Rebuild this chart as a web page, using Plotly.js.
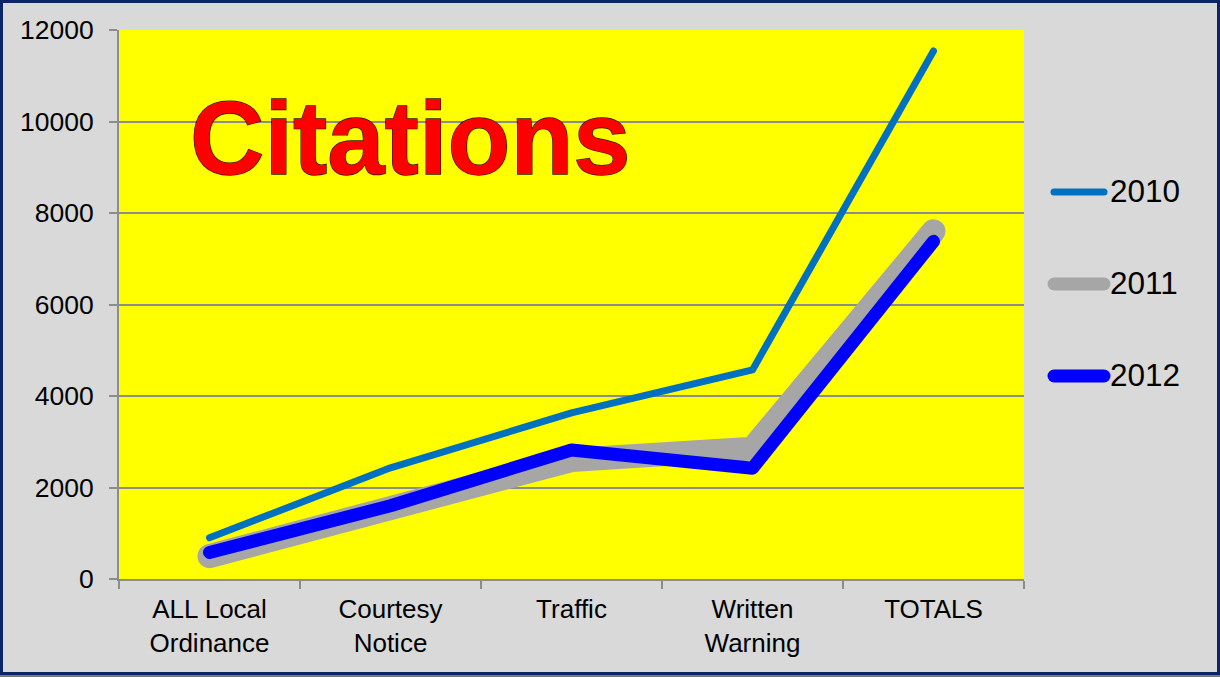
<!DOCTYPE html>
<html>
<head>
<meta charset="utf-8">
<script src="https://cdn.plot.ly/plotly-3.0.1.min.js"></script>
<style>
  html, body { margin: 0; padding: 0; background: #d9d9d9; }
  #wrap { position: relative; width: 1220px; height: 677px; overflow: hidden; }
  #chart { position: absolute; left: 0; top: 0; width: 1220px; height: 677px; }
  #frame { position: absolute; left: 0; top: 0; width: 1220px; height: 675px; box-sizing: border-box;
           border: 3px solid #0b2566; box-shadow: 0 2px 0 #7a7a7a; pointer-events: none; }
  .js-line { stroke-linecap: round !important; stroke-linejoin: round !important; }
  .shapelayer path { stroke-linecap: round !important; }
  .ann-title text { stroke: #2a1200; stroke-width: 1.3px; paint-order: stroke; }
</style>
</head>
<body>
<div id="wrap">
  <div id="chart"></div>
  <div id="frame"></div>
</div>
<script>
// ---- data ----
const categories = ["ALL Local<br>Ordinance", "Courtesy<br>Notice", "Traffic", "Written<br>Warning", "TOTALS"];
const seriesNames = ["2010", "2011", "2012"];
const values2010 = [900, 2430, 3630, 4570, 11540];
const values2011 = [500, 1600, 2600, 2850, 7600];
const values2012 = [580, 1600, 2820, 2420, 7380];
const yTickValues = [0, 2000, 4000, 6000, 8000, 10000, 12000];
const chartTitle = "Citations";

// ---- styling ----
const colors = ["#0070c0", "#a6a6a6", "#0000ff"];
const widths = [7, 24, 13];
const legendWidths = [7, 13, 13];
const FONT = "Liberation Sans, Arial, sans-serif";

// plot area in page pixels
const PL = 119, PR = 1024, PT = 30, PB = 579;
const W = 1220, H = 677;
const px2x = p => (p - PL) / (PR - PL);
const py2y = p => (PB - p) / (PB - PT);

const allValues = [values2010, values2011, values2012];
const traces = allValues.map((v, i) => ({
  type: "scatter", mode: "lines",
  x: categories, y: v, name: seriesNames[i],
  line: { color: colors[i], width: widths[i] },
  showlegend: false, hoverinfo: "skip"
}));

// custom legend (shapes + text)
const legendY = [192, 284, 376];
const shapes = seriesNames.map((n, i) => ({
  type: "line", xref: "paper", yref: "paper",
  x0: px2x(1054), x1: px2x(1104), y0: py2y(legendY[i]), y1: py2y(legendY[i]),
  line: { color: colors[i], width: legendWidths[i] }
}));
const annotations = seriesNames.map((n, i) => ({
  xref: "paper", yref: "paper", x: px2x(1108), y: py2y(legendY[i] - 1),
  xanchor: "left", yanchor: "middle", showarrow: false, text: n,
  font: { family: FONT, size: 31.5, color: "#000000" }
}));
annotations.push({
  xref: "paper", yref: "paper", x: px2x(410), y: py2y(138),
  xanchor: "center", yanchor: "middle", showarrow: false, text: chartTitle,
  font: { family: FONT, size: 103, color: "#ff0000", weight: "bold" }
});

const layout = {
  width: W, height: H,
  margin: { l: PL, r: W - PR, t: PT, b: H - PB, pad: 0 },
  paper_bgcolor: "#d9d9d9",
  plot_bgcolor: "#ffff00",
  showlegend: false,
  xaxis: {
    type: "category", range: [-0.5, 4.5], tickson: "boundaries",
    ticks: "outside", ticklen: 8, tickwidth: 2, tickcolor: "#8c8c8c",
    showline: true, linecolor: "#8c8c8c", linewidth: 2,
    showgrid: false, zeroline: false,
    tickfont: { family: FONT, size: 26, color: "#000000" },
    ticklabelstandoff: 6,
    fixedrange: true
  },
  yaxis: {
    range: [0, 12000], tickvals: yTickValues, ticktext: yTickValues.map(String),
    ticks: "outside", ticklen: 8, tickwidth: 2, tickcolor: "#8c8c8c",
    showline: true, linecolor: "#8c8c8c", linewidth: 2,
    showgrid: true, gridcolor: "#8c8c8c", gridwidth: 2, zeroline: false,
    tickfont: { family: FONT, size: 26.5, color: "#000000" },
    ticklabelstandoff: 10,
    fixedrange: true
  },
  shapes: shapes,
  annotations: annotations
};

Plotly.newPlot("chart", traces, layout, { staticPlot: true, displayModeBar: false }).then(gd => {
  const anns = gd.querySelectorAll(".annotation");
  if (anns.length) anns[anns.length - 1].classList.add("ann-title");
});
</script>
</body>
</html>
